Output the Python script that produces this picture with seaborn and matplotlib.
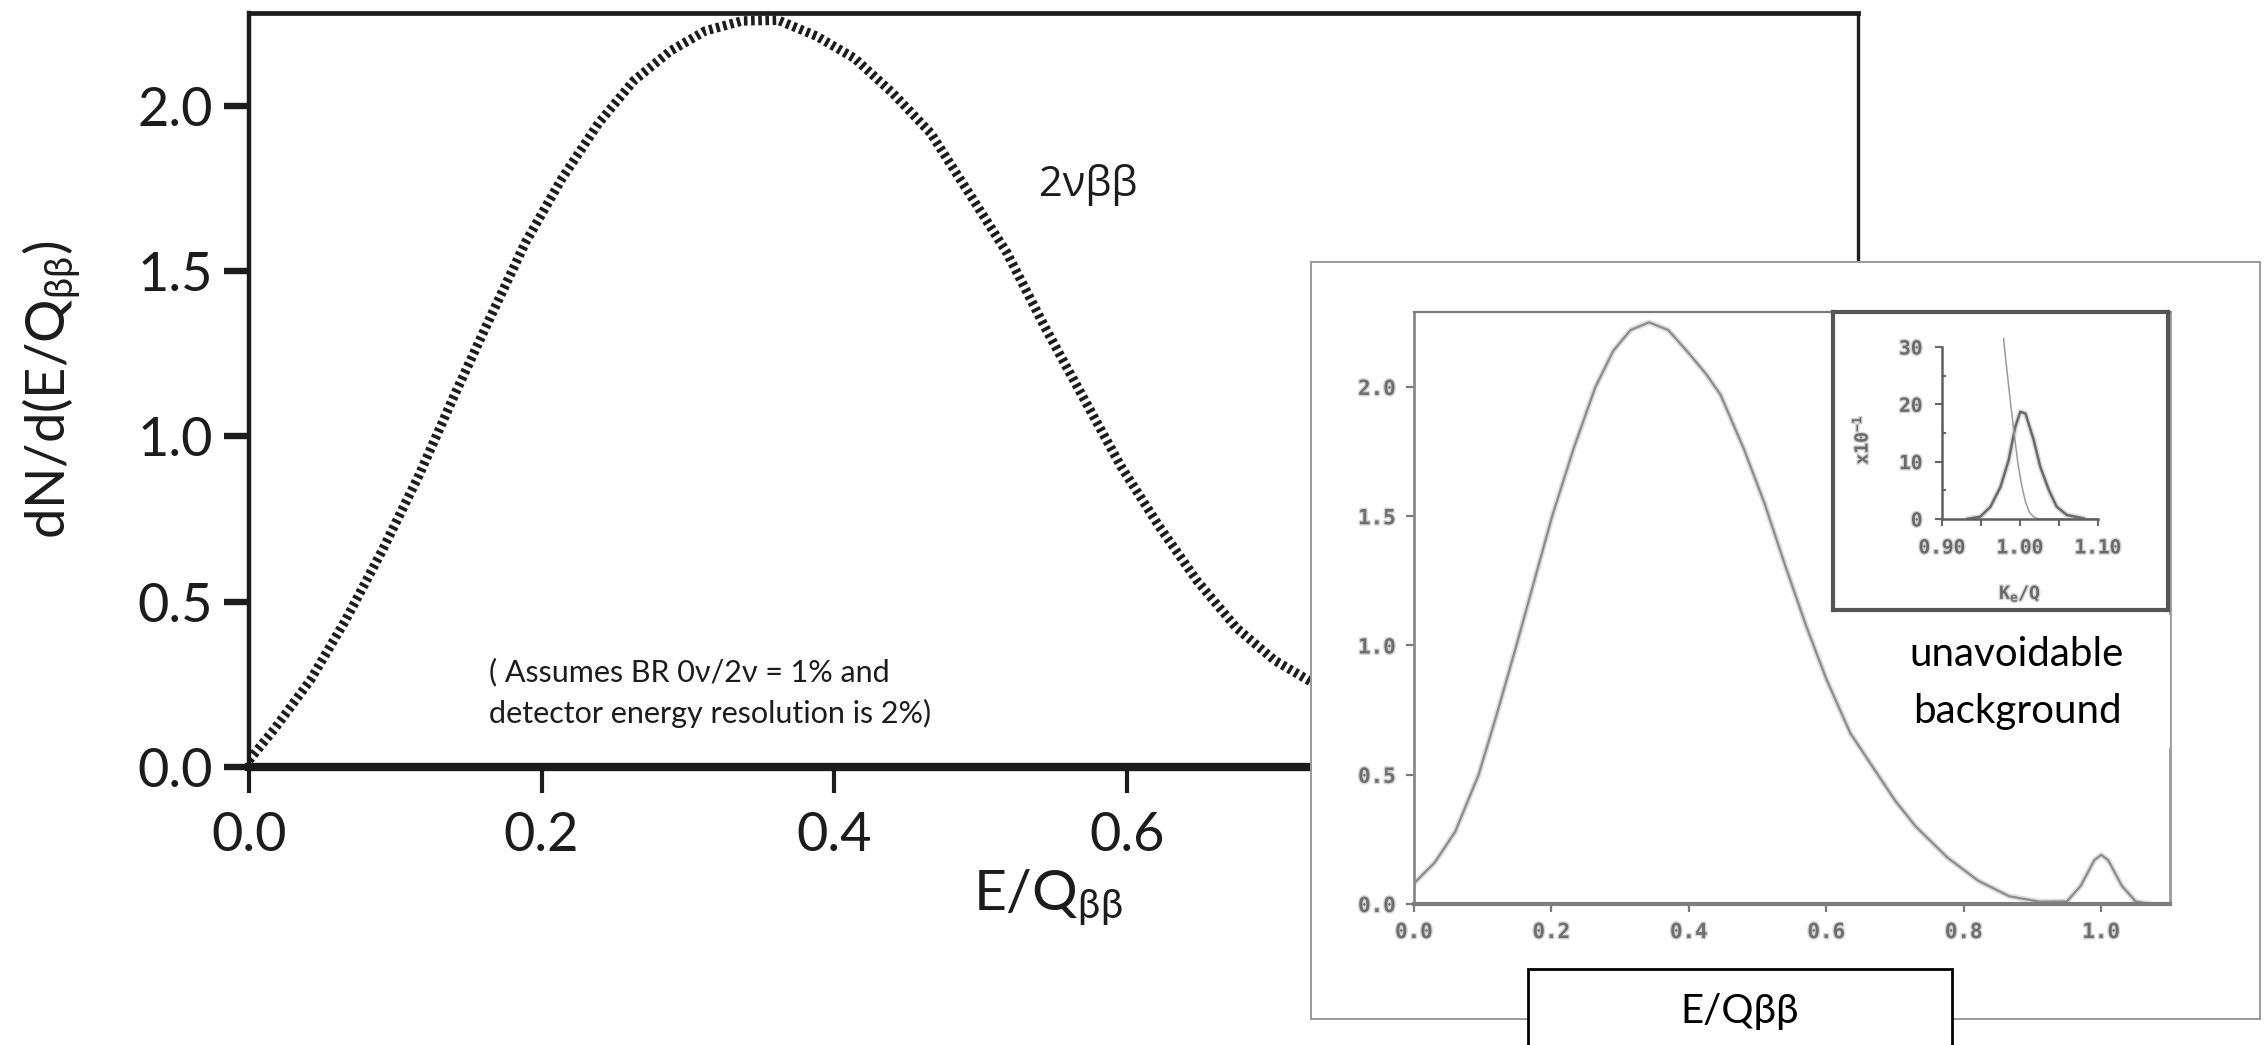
import matplotlib
matplotlib.use("Agg")
import matplotlib.pyplot as plt
import matplotlib.patheffects as pe
from matplotlib.patches import Rectangle
import seaborn as sns

# 2-neutrino double-beta spectrum (summed electron energy / Q)
energy = [0.0, 0.017, 0.042, 0.066, 0.091, 0.116, 0.140, 0.165, 0.189, 0.214,
          0.239, 0.263, 0.288, 0.312, 0.337, 0.362, 0.388, 0.414, 0.440, 0.466,
          0.492, 0.518, 0.544, 0.570, 0.596, 0.622, 0.648, 0.675, 0.701, 0.724,
          0.750, 0.780, 0.810, 0.840, 0.870, 0.900]
rate = [0.02, 0.113, 0.263, 0.444, 0.654, 0.88, 1.12, 1.36, 1.586, 1.78,
        1.947, 2.075, 2.165, 2.226, 2.256, 2.258, 2.21, 2.143, 2.038, 1.917,
        1.737, 1.556, 1.331, 1.12, 0.91, 0.729, 0.564, 0.421, 0.323, 0.263,
        0.20, 0.13, 0.08, 0.04, 0.015, 0.004]

# reprinted spectrum: 2nu continuum plus the 0nu line at the endpoint
ref_energy = [0.0, 0.03, 0.06, 0.094, 0.12, 0.149, 0.175, 0.201, 0.232, 0.264,
              0.29, 0.315, 0.342, 0.37, 0.40, 0.425, 0.446, 0.48, 0.51, 0.54,
              0.57, 0.60, 0.635, 0.67, 0.70, 0.73, 0.776, 0.821, 0.866, 0.91,
              0.95, 0.97, 0.99, 1.00, 1.01, 1.03, 1.05, 1.07]
ref_rate = [0.08, 0.16, 0.28, 0.50, 0.73, 1.00, 1.25, 1.50, 1.76, 2.00,
            2.14, 2.22, 2.25, 2.22, 2.13, 2.05, 1.97, 1.76, 1.55, 1.31,
            1.08, 0.87, 0.66, 0.52, 0.40, 0.30, 0.18, 0.09, 0.03, 0.009,
            0.01, 0.07, 0.17, 0.19, 0.17, 0.07, 0.01, 0.0]

# endpoint detail (units of the small panel)
line0v_energy = [0.932, 0.949, 0.962, 0.975, 0.9855, 0.994, 1.0004, 1.007,
                 1.0175, 1.026, 1.037, 1.047, 1.060, 1.082]
line0v_rate = [0.0, 0.4, 2.1, 5.6, 10.3, 16.1, 18.7, 18.4, 13.8, 9.1, 5.05,
               2.15, 0.7, 0.1]
tail2v_energy = [0.979, 0.980, 0.984, 0.988, 0.9925, 0.997, 1.002, 1.007,
                 1.012, 1.018, 1.025, 1.10]
tail2v_rate = [31.5, 30.0, 25.0, 20.0, 15.0, 10.0, 6.0, 3.0, 1.2, 0.3, 0.0, 0.0]

main_xticks = [0.0, 0.2, 0.4, 0.6, 0.8, 1.0]
main_yticks = [0.0, 0.5, 1.0, 1.5, 2.0]
small_xticks = [0.90, 1.00, 1.10]
small_yticks = [0, 10, 20, 30]

sns.set_style("white")
plt.rcParams["font.family"] = ["Lato", "DejaVu Sans"]
plt.rcParams["mathtext.fontset"] = "custom"
plt.rcParams["mathtext.rm"] = "Lato"
plt.rcParams["mathtext.it"] = "Lato"

W, H = 2267, 1045
fig = plt.figure(figsize=(W / 100, H / 100), dpi=100)
fig.patch.set_facecolor("white")


def rect(l, t, r, b):
    return [l / W, 1 - b / H, (r - l) / W, (b - t) / H]


def fx(x):
    return x / W


def fy(y):
    return 1 - y / H


INK = "#1c1c1c"

# ---------------- main panel ----------------
ax = fig.add_axes(rect(249, 13, 1858, 767))
sns.lineplot(x=energy, y=rate, ax=ax, color=INK, linewidth=6.8, sort=False)
ln = ax.lines[-1]
ln.set_linestyle((0, (0.38, 0.38)))
ln.set_dash_capstyle("butt")

ax.set_xlim(0, 1.1)
ax.set_ylim(0, 2.28)
ax.set_xticks(main_xticks)
ax.set_yticks(main_yticks)
ax.set_xticklabels([f"{v:.1f}" for v in main_xticks])
ax.set_yticklabels([f"{v:.1f}" for v in main_yticks])
ax.tick_params(axis="x", bottom=True, length=19, width=3.0, direction="out",
               pad=13, labelsize=39, colors=INK)
ax.tick_params(axis="y", left=True, length=18, width=4.6, direction="out",
               pad=8, labelsize=39, colors=INK)
for side, lw in {"bottom": 6.0, "left": 3.2, "top": 3.4, "right": 2.4}.items():
    ax.spines[side].set_linewidth(lw)
    ax.spines[side].set_color(INK)
ax.set_xlabel("")
ax.set_ylabel("")

ax.text(0.574, 1.76, "2νββ", fontsize=30, family=["Open Sans", "DejaVu Sans"],
        color=INK, ha="center", va="center")
fig.text(fx(489), fy(681), "( Assumes BR 0ν/2ν = 1% and", fontsize=22,
         color=INK, ha="left", va="baseline")
fig.text(fx(489), fy(723), "detector energy resolution is 2%)", fontsize=22,
         color=INK, ha="left", va="baseline")

fig.text(fx(1048), fy(898), "E/Q$_{\\mathregular{ββ}}$", fontsize=41,
         color=INK, ha="center", va="center")
fig.text(fx(52), fy(390), "dN/d(E/Q$_{\\mathregular{ββ}}$)", fontsize=39,
         color=INK, ha="center", va="center", rotation=90)

# ---------------- reprinted figure ----------------
GREY = "#8c8c8c"
soft = [pe.Stroke(linewidth=4.0, foreground="#bdbdbd", alpha=0.5), pe.Normal()]
soft_txt = [pe.withStroke(linewidth=2.0, foreground="#d4d4d4")]

frame = fig.add_axes(rect(1311, 262, 2260, 1019))
frame.set_facecolor("white")
frame.set_xticks([])
frame.set_yticks([])
for s in frame.spines.values():
    s.set_color("#9a9a9a")
    s.set_linewidth(1.4)

inner = fig.add_axes(rect(1414, 312, 2170, 904))
inner.set_facecolor("none")
sns.lineplot(x=ref_energy, y=ref_rate, ax=inner, color=GREY, linewidth=1.6,
             sort=False)
inner.lines[-1].set_path_effects(soft)
inner.set_xlim(0, 1.1)
inner.set_ylim(0, 2.29)
inner.set_xticks(main_xticks)
inner.set_yticks(main_yticks)
inner.set_xticklabels([f"{v:.1f}" for v in main_xticks])
inner.set_yticklabels([f"{v:.1f}" for v in main_yticks])
inner.tick_params(axis="both", bottom=True, left=True, length=6, width=1.6,
                  direction="out", colors="#7a7a7a", labelsize=15, pad=7)
for lab in inner.get_xticklabels() + inner.get_yticklabels():
    lab.set_family("DejaVu Sans Mono")
    lab.set_fontweight("bold")
    lab.set_color("#6e6e6e")
    lab.set_path_effects(soft_txt)
for side, (lw, c) in {"bottom": (3.0, "#7d7d7d"), "left": (2.0, "#8a8a8a"),
                      "top": (1.6, "#7a7a7a"), "right": (2.0, "#9a9a9a")}.items():
    inner.spines[side].set_linewidth(lw)
    inner.spines[side].set_color(c)
inner.set_xlabel("")
inner.set_ylabel("")

box = fig.add_axes(rect(1833, 312, 2168, 610))
box.set_facecolor("white")
box.set_xticks([])
box.set_yticks([])
for s in box.spines.values():
    s.set_color("#555555")
    s.set_linewidth(3.0)

small = fig.add_axes(rect(1942, 347, 2098, 519))
small.set_facecolor("none")
sns.lineplot(x=line0v_energy, y=line0v_rate, ax=small, color="#6a6a6a",
             linewidth=1.8, sort=False)
small.lines[-1].set_path_effects(soft)
sns.lineplot(x=tail2v_energy, y=tail2v_rate, ax=small, color="#9a9a9a",
             linewidth=1.1, sort=False)
small.lines[-1].set_clip_on(False)
small.set_xlim(0.90, 1.10)
small.set_ylim(0, 30)
small.set_xticks(small_xticks)
small.set_xticks([0.95, 1.05], minor=True)
small.set_yticks(small_yticks)
small.set_yticks([5, 15, 25], minor=True)
small.set_xticklabels(["0.90", "1.00", "1.10"])
small.set_yticklabels([str(v) for v in small_yticks])
small.tick_params(axis="both", which="major", bottom=True, left=True,
                  length=5, width=1.5, direction="out", colors="#666666",
                  labelsize=14, pad=9)
small.tick_params(axis="x", which="minor", bottom=True, length=5, width=1.5,
                  direction="out", colors="#666666")
small.tick_params(axis="y", which="minor", left=True, length=3, width=1.5,
                  direction="in", colors="#666666")
for lab in small.get_xticklabels() + small.get_yticklabels():
    lab.set_family("DejaVu Sans Mono")
    lab.set_fontweight("bold")
    lab.set_color("#6a6a6a")
    lab.set_path_effects(soft_txt)
for side in ("top", "right"):
    small.spines[side].set_visible(False)
for side in ("left", "bottom"):
    small.spines[side].set_color("#5e5e5e")
    small.spines[side].set_linewidth(1.8)
small.set_xlabel("")
small.set_ylabel("")
fig.text(fx(1862), fy(440), "x10$^{\\mathregular{-1}}$", fontsize=13,
         family="DejaVu Sans Mono", fontweight="bold", color="#6a6a6a",
         rotation=90, ha="center", va="center", path_effects=soft_txt)
fig.text(fx(2020), fy(594), "K$_{\\mathregular{e}}$/Q", fontsize=13,
         family="DejaVu Sans Mono", fontweight="bold", color="#6a6a6a",
         ha="center", va="center", path_effects=soft_txt)

# callout labels laid over the reprint
fig.add_artist(Rectangle((fx(1865), fy(748)), (2170 - 1865) / W, (748 - 615) / H,
                         transform=fig.transFigure, facecolor="white",
                         edgecolor="none", zorder=10))
fig.text(fx(2017), fy(655), "unavoidable", fontsize=29, color="black",
         ha="center", va="center", zorder=11)
fig.text(fx(2017), fy(712), "background", fontsize=29, color="black",
         ha="center", va="center", zorder=11)

fig.add_artist(Rectangle((fx(1528), fy(1060)), (1952 - 1528) / W, (1060 - 969) / H,
                         transform=fig.transFigure, facecolor="white",
                         edgecolor="black", linewidth=2.0, zorder=10))
fig.text(fx(1740), fy(1012), "E/Qββ", fontsize=29, color="black",
         ha="center", va="center", zorder=11)

fig.savefig("out.png", dpi=100, facecolor="white")
